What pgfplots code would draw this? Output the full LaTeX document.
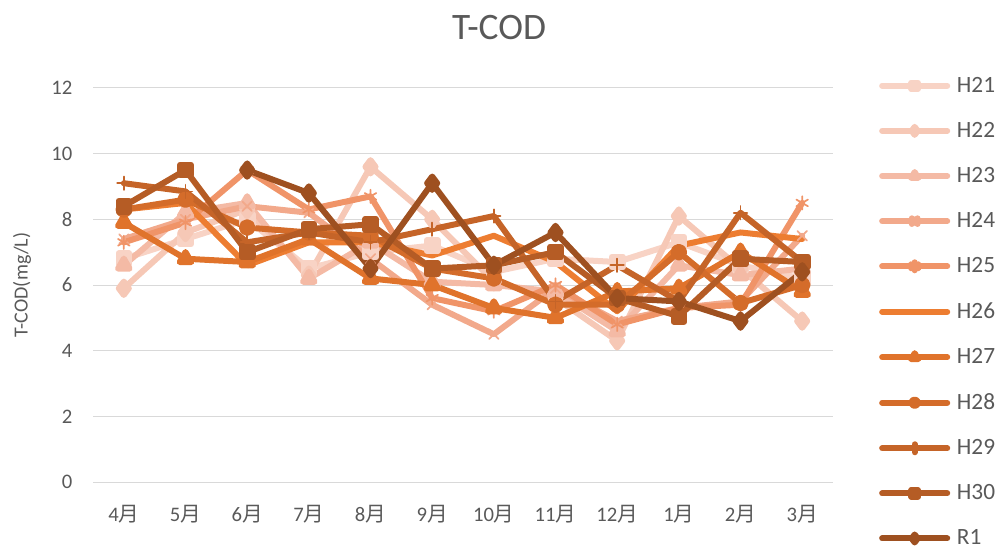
\documentclass[border=0pt]{standalone}
\usepackage{pgfplots}
\pgfplotsset{compat=1.18}
\usepackage{pgfplotstable}
\usepackage{fontspec}
\setmainfont{Carlito}
\newfontfamily\jp{Noto Sans CJK JP}
\definecolor{c21}{HTML}{F8D3C5}
\definecolor{c22}{HTML}{F6C8B6}
\definecolor{c23}{HTML}{F4BAA5}
\definecolor{c24}{HTML}{F2A98B}
\definecolor{c25}{HTML}{F09468}
\definecolor{c26}{HTML}{ED7D31}
\definecolor{c27}{HTML}{E0732B}
\definecolor{c28}{HTML}{D46C2A}
\definecolor{c29}{HTML}{C56428}
\definecolor{c30}{HTML}{B55C25}
\definecolor{cR1}{HTML}{9E5020}
\definecolor{txt}{HTML}{595959}
\definecolor{grd}{HTML}{D9D9D9}
\pgfplotstableread{
m H21 H22 H23 H24 H25 H26 H27 H28 H29 H30 R1
0 6.8 5.9 6.6 7.4 7.3 8.3 7.9 8.3 9.1 8.4 nan
1 7.4 7.6 8.2 8.0 7.9 8.5 6.8 8.6 8.85 9.5 nan
2 8.0 8.3 8.5 8.4 9.5 6.6 6.7 7.75 7.3 7.0 9.5
3 6.5 6.3 6.2 8.2 8.3 7.3 7.4 7.6 7.6 7.7 8.8
4 7.0 9.6 7.3 6.8 8.7 7.3 6.2 7.5 7.3 7.85 6.5
5 7.2 8.0 6.1 5.4 5.6 6.9 6.0 6.5 7.7 6.5 9.1
6 6.4 6.1 6.0 4.5 5.2 7.5 5.3 6.2 8.1 6.6 6.6
7 6.8 5.6 5.8 5.9 6.0 6.7 5.0 5.4 5.5 7.0 7.6
8 6.7 4.3 4.6 4.9 4.8 5.2 5.8 5.4 6.6 5.6 5.6
9 7.3 8.1 6.6 5.3 5.3 7.2 5.9 7.0 5.5 5.05 5.5
10 6.6 6.5 6.3 5.5 5.4 7.6 7.0 5.45 8.2 6.8 4.9
11 6.2 4.9 6.5 7.5 8.5 7.4 5.8 6.0 6.7 6.7 6.4
}\data
\begin{document}
\begin{tikzpicture}
\useasboundingbox (0,0) rectangle (748.5pt,412.5pt);
\node[font=\fontsize{28}{32}\selectfont, text=txt] at (374.25pt,391.5pt) {T-COD};
\node[font=\fontsize{15}{18}\selectfont, text=txt, rotate=90] at (16.5pt,198.75pt) {T-COD(mg/L)};
\begin{axis}[
  at={(69.75pt,51pt)}, anchor=south west,
  scale only axis, width=555pt, height=295.5pt,
  xmin=-0.5, xmax=11.5, ymin=0, ymax=12,
  ytick={0,2,...,12},
  xtick={0,...,11},
  xticklabels={4{\jp 月},5{\jp 月},6{\jp 月},7{\jp 月},8{\jp 月},9{\jp 月},10{\jp 月},11{\jp 月},12{\jp 月},1{\jp 月},2{\jp 月},3{\jp 月}},
  /pgf/number format/assume math mode=true,
  ymajorgrids, grid style={grd, line width=0.75pt},
  axis line style={draw=none},
  major tick length=0pt,
  tick label style={font=\fontsize{15.5}{18}\selectfont, text=txt},
  xticklabel style={yshift=-14pt},
  yticklabel style={xshift=-12pt},
  unbounded coords=jump,
  every axis plot/.append style={line width=4.5pt, line join=round, line cap=round},
  legend cell align=left,
  legend style={at={(rel axis cs:1.062,1.035)}, anchor=north west, draw=none, fill=none,
    font=\fontsize{17.5}{20}\selectfont, text=txt, row sep=17pt, inner sep=0pt,
    nodes={inner xsep=5pt}},
  legend image code/.code={\draw[mark repeat=2,mark phase=2,#1,mark options={scale=0.6}] plot coordinates {(0pt,0pt)(24.4pt,0pt)(48.8pt,0pt)};},
]
\addplot[c21, mark=square*, mark size=4pt] table[x=m,y=H21]{\data};
\addlegendentry{H21}
\addplot[c22, mark=diamond*, mark size=5pt] table[x=m,y=H22]{\data};
\addlegendentry{H22}
\addplot[c23, mark=triangle*, mark size=5pt] table[x=m,y=H23]{\data};
\addlegendentry{H23}
\addplot[c24, mark=x, mark size=5pt, mark options={line width=1.3pt}] table[x=m,y=H24]{\data};
\addlegendentry{H24}
\addplot[c25, mark=asterisk, mark size=5pt, mark options={line width=1.3pt}] table[x=m,y=H25]{\data};
\addlegendentry{H25}
\addplot[c26, mark=none] table[x=m,y=H26]{\data};
\addlegendentry{H26}
\addplot[c27, mark=triangle*, mark size=5pt] table[x=m,y=H27]{\data};
\addlegendentry{H27}
\addplot[c28, mark=*, mark size=4pt] table[x=m,y=H28]{\data};
\addlegendentry{H28}
\addplot[c29, mark=+, mark size=5pt, mark options={line width=1.3pt}] table[x=m,y=H29]{\data};
\addlegendentry{H29}
\addplot[c30, mark=square*, mark size=4pt] table[x=m,y=H30]{\data};
\addlegendentry{H30}
\addplot[cR1, mark=diamond*, mark size=5pt] table[x=m,y=R1]{\data};
\addlegendentry{R1}
\end{axis}
\end{tikzpicture}
\end{document}
